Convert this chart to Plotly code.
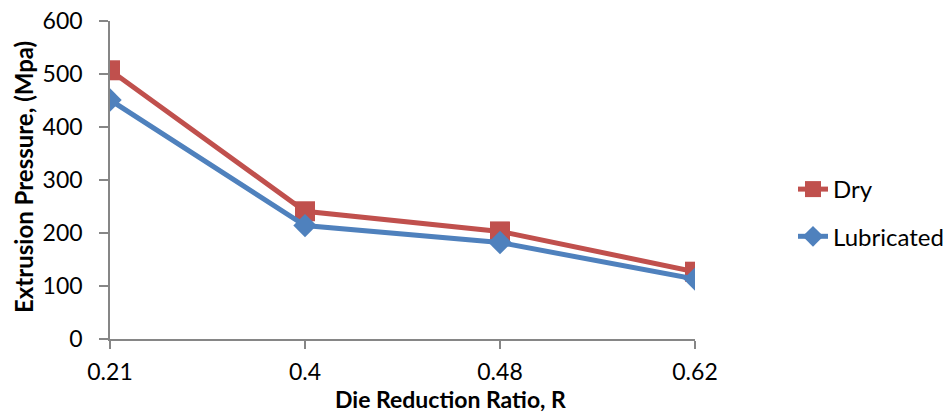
import plotly.graph_objects as go

categories = ["0.21", "0.4", "0.48", "0.62"]
dry = [507, 241, 203, 127]
lubricated = [451, 214, 182, 113]
y_ticks = [0, 100, 200, 300, 400, 500, 600]

RED = "#C0504D"
BLUE = "#4F81BD"
AXIS = "#868686"
FONT = "Lato"

fig = go.Figure()
fig.add_trace(go.Scatter(
    x=categories, y=dry, name="Dry", mode="lines+markers",
    line=dict(color=RED, width=5),
    marker=dict(symbol="square", size=20, color=RED),
    legendgroup="a",
))
fig.add_trace(go.Scatter(
    x=categories, y=lubricated, name="Lubricated", mode="lines+markers",
    line=dict(color=BLUE, width=5),
    marker=dict(symbol="diamond", size=18, color=BLUE),
    legendgroup="b",
))

fig.update_layout(
    width=945, height=414,
    margin=dict(l=110, r=250, t=21, b=75, autoexpand=False),
    paper_bgcolor="white", plot_bgcolor="white",
    font=dict(family=FONT, size=23, color="black"),
    showlegend=True,
    legend=dict(x=(793 - 110) / 585, y=(339 - 213) / 318, xanchor="left", yanchor="middle",
                font=dict(size=24), tracegroupgap=13,
                bgcolor="rgba(0,0,0,0)"),
    xaxis=dict(
        type="category", categoryorder="array", categoryarray=categories,
        range=[0, 3], showgrid=False, zeroline=False,
        showline=True, linecolor=AXIS, linewidth=1.5,
        ticks="outside", ticklen=8, tickcolor=AXIS, tickwidth=1.5,
        ticklabelstandoff=4,
        tickfont=dict(size=23),
    ),
    yaxis=dict(
        range=[0, 600], tickvals=y_ticks, showgrid=False, zeroline=False,
        showline=True, linecolor=AXIS, linewidth=1.5,
        ticks="outside", ticklen=9, tickcolor=AXIS, tickwidth=1.5,
        ticklabelstandoff=12,
        tickfont=dict(size=23),
    ),
    annotations=[
        dict(text="<b>Die Reduction Ratio, R</b>", xref="paper", yref="paper",
             x=(450 - 110) / 585, y=-(414 - 339) / 318, xanchor="center", yanchor="bottom",
             borderpad=0, showarrow=False, font=dict(size=23)),
        dict(text="<b>Extrusion Pressure, (Mpa)</b>", xref="paper", yref="paper",
             x=-(110 - 23) / 585, y=(339 - 177) / 318, xanchor="center", yanchor="middle",
             textangle=-90, showarrow=False, font=dict(size=24)),
    ],
)

fig.write_html("out.html")
